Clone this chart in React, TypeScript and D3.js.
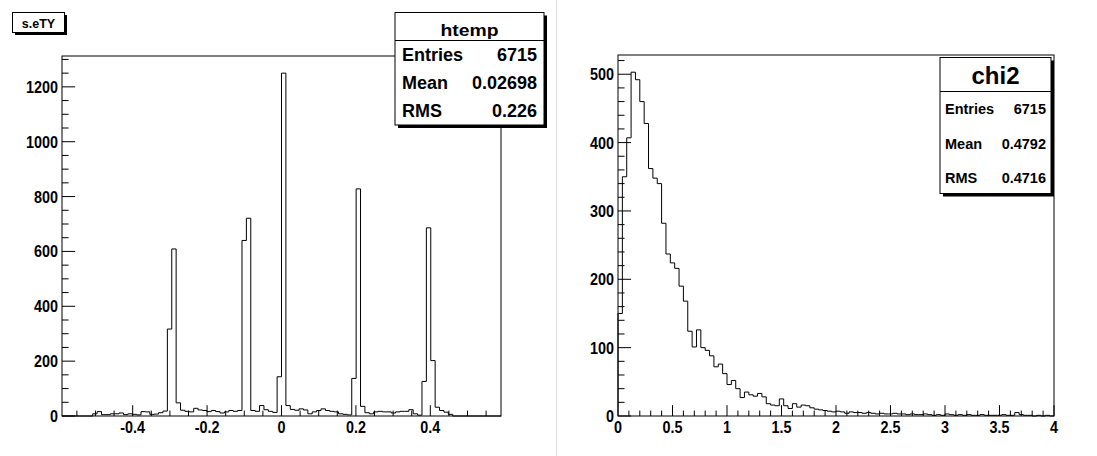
import React from 'react';
import * as d3 from 'd3';

const W = 1097;
const H = 456;

// ---- Left histogram: s.eTY (htemp), 100 bins on [-0.59, 0.59]
const leftRange: [number, number] = [-0.59, 0.59];
const leftCounts = [
  0, 0, 0, 0, 0, 0, 0, 8, 16, 5,
  5, 8, 8, 11, 5, 8, 6, 4, 16, 15,
  6, 7, 12, 18, 317, 609, 48, 21, 17, 15,
  28, 22, 20, 16, 20, 16, 11, 15, 20, 17,
  20, 640, 721, 20, 17, 38, 23, 17, 13, 143,
  1250, 38, 24, 21, 26, 22, 8, 15, 20, 26,
  20, 17, 15, 8, 6, 4, 137, 828, 35, 12,
  8, 15, 17, 15, 15, 11, 15, 17, 17, 23,
  8, 3, 126, 686, 202, 32, 20, 14, 6, 0,
  0, 0, 0, 0, 0, 0, 0, 0, 0, 0,
];
const leftXTicks = [-0.4, -0.2, 0, 0.2, 0.4];
const leftXTickLabels = ['-0.4', '-0.2', '0', '0.2', '0.4'];
const leftYTicks = [0, 200, 400, 600, 800, 1000, 1200];
const leftYTickLabels = ['0', '200', '400', '600', '800', '1000', '1200'];
const leftTitle = 's.eTY';
const leftStatTitle = 'htemp';
const leftStatLabels = ['Entries', 'Mean', 'RMS'];
const leftStatValues = ['6715', '0.02698', '0.226'];

// ---- Right histogram: chi2, 100 bins on [0, 4]
const rightRange: [number, number] = [0, 4];
const rightCounts = [
  150, 350, 407, 503, 492, 460, 428, 362, 348, 340,
  282, 237, 224, 216, 190, 168, 124, 101, 126, 100,
  96, 88, 72, 76, 62, 46, 52, 40, 27, 35,
  31, 29, 33, 28, 18, 16, 15, 25, 15, 11,
  18, 13, 16, 15, 12, 10, 9, 8, 7, 6,
  7, 6, 4, 6, 5, 5, 4, 5, 4, 3,
  4, 3, 3, 4, 3, 3, 2, 3, 2, 2,
  3, 2, 1, 2, 1, 3, 2, 1, 2, 1,
  2, 1, 1, 2, 1, 1, 1, 1, 2, 1,
  1, 5, 2, 1, 1, 0, 1, 0, 1, 0,
];
const rightXTicks = [0, 0.5, 1, 1.5, 2, 2.5, 3, 3.5, 4];
const rightXTickLabels = ['0', '0.5', '1', '1.5', '2', '2.5', '3', '3.5', '4'];
const rightYTicks = [0, 100, 200, 300, 400, 500];
const rightYTickLabels = ['0', '100', '200', '300', '400', '500'];
const rightStatTitle = 'chi2';
const rightStatLabels = ['Entries', 'Mean', 'RMS'];
const rightStatValues = ['6715', '0.4792', '0.4716'];

const AXIS_FONT = '"Liberation Sans", Arial, sans-serif';
const BOX_FONT = '"Liberation Sans", Arial, sans-serif';
const AXIS_SQUEEZE = 0.87;

type Frame = { x0: number; x1: number; y0: number; y1: number };

function Hist(props: {
  frame: Frame;
  range: [number, number];
  counts: number[];
  xTicks: number[];
  xTickLabels: string[];
  xMinorStep: number;
  yTicks: number[];
  yTickLabels: string[];
  yMinorStep: number;
}) {
  const { frame, range, counts, xTicks, xTickLabels, xMinorStep, yTicks, yTickLabels, yMinorStep } = props;
  const n = counts.length;
  const ymax = 1.05 * (d3.max(counts) as number);
  const x = d3.scaleLinear().domain(range).range([frame.x0, frame.x1]);
  const y = d3.scaleLinear().domain([0, ymax]).range([frame.y1, frame.y0]);
  const bw = (range[1] - range[0]) / n;
  const pts: [number, number][] = [[range[0], 0]];
  counts.forEach((c, i) => pts.push([range[0] + i * bw, c]));
  pts.push([range[1], 0]);
  const line = d3
    .line<[number, number]>()
    .x((d) => x(d[0]))
    .y((d) => y(d[1]))
    .curve(d3.curveStepAfter);

  const xMinor: number[] = [];
  const startX = Math.ceil((range[0] + 1e-9) / xMinorStep) * xMinorStep;
  for (let v = startX; v <= range[1] + 1e-9; v += xMinorStep) xMinor.push(+v.toFixed(6));
  const yMinor: number[] = [];
  for (let v = 0; v <= ymax + 1e-9; v += yMinorStep) yMinor.push(v);

  const Hh = frame.y1 - frame.y0;
  const Wd = frame.x1 - frame.x0;
  const xMaj = 0.03 * Hh;
  const yMaj = 0.03 * Wd;

  return (
    <g>
      <rect x={frame.x0} y={frame.y0} width={Wd} height={Hh} fill="none" stroke="#000" strokeWidth={1} />
      <path d={line(pts) || ''} fill="none" stroke="#000" strokeWidth={1} />
      {xMinor.map((v, i) => {
        const isMaj = xTicks.some((t) => Math.abs(t - v) < 1e-6);
        return (
          <line key={'xm' + i} x1={x(v)} x2={x(v)} y1={frame.y1} y2={frame.y1 - (isMaj ? xMaj : xMaj / 2)} stroke="#000" strokeWidth={1} />
        );
      })}
      {yMinor.map((v, i) => {
        const isMaj = yTicks.some((t) => Math.abs(t - v) < 1e-6);
        return (
          <line key={'ym' + i} x1={frame.x0} x2={frame.x0 + (isMaj ? yMaj : yMaj / 2)} y1={y(v)} y2={y(v)} stroke="#000" strokeWidth={1} />
        );
      })}
      {xTicks.map((t, i) => (
        <g key={'xl' + i} transform={`translate(${x(t)},${frame.y1 + 17}) scale(${AXIS_SQUEEZE},1)`}>
          <text x={0} y={0} textAnchor="middle" fontFamily={AXIS_FONT} fontWeight="bold" fontSize={16.5}>
            {xTickLabels[i]}
          </text>
        </g>
      ))}
      {yTicks.map((t, i) => (
        <g key={'yl' + i} transform={`translate(${frame.x0 - 4},${y(t) + 6}) scale(${AXIS_SQUEEZE},1)`}>
          <text x={0} y={0} textAnchor="end" fontFamily={AXIS_FONT} fontWeight="bold" fontSize={16.5}>
            {yTickLabels[i]}
          </text>
        </g>
      ))}
    </g>
  );
}

function StatBox(props: {
  x: number; y: number; w: number; h: number; sepY: number;
  title: string; titleSize: number; titleBase: number; titleLen?: number;
  labels: string[]; values: string[]; rowBases: number[]; rowSize: number; pad: number;
}) {
  const p = props;
  return (
    <g fontFamily={BOX_FONT} fontWeight="bold">
      <rect x={p.x + 3} y={p.y + 3} width={p.w} height={p.h} fill="#000" />
      <rect x={p.x} y={p.y} width={p.w} height={p.h} fill="#fff" stroke="#000" strokeWidth={1} />
      <line x1={p.x} x2={p.x + p.w} y1={p.sepY} y2={p.sepY} stroke="#000" strokeWidth={1} />
      <text x={p.x + p.w / 2} y={p.titleBase} textAnchor="middle" fontSize={p.titleSize}
        {...(p.titleLen ? { textLength: p.titleLen, lengthAdjust: 'spacingAndGlyphs' } : {})}>
        {p.title}
      </text>
      {p.labels.map((l, i) => (
        <g key={i}>
          <text x={p.x + p.pad} y={p.rowBases[i]} fontSize={p.rowSize}>{l}</text>
          <text x={p.x + p.w - p.pad} y={p.rowBases[i]} fontSize={p.rowSize} textAnchor="end">{p.values[i]}</text>
        </g>
      ))}
    </g>
  );
}

export default function App() {
  const leftFrame: Frame = { x0: 62, x1: 501, y0: 56, y1: 416 };
  const rightFrame: Frame = { x0: 618, x1: 1054, y0: 55, y1: 416 };
  return (
    <svg width={W} height={H} style={{ position: 'absolute', left: 0, top: 0, background: '#fff' }}>
      <rect x={0} y={0} width={W} height={H} fill="#fff" />
      <line x1={556.5} x2={556.5} y1={0} y2={H} stroke="#dcdcdc" strokeWidth={1} />
      <Hist frame={leftFrame} range={leftRange} counts={leftCounts}
        xTicks={leftXTicks} xTickLabels={leftXTickLabels} xMinorStep={0.05}
        yTicks={leftYTicks} yTickLabels={leftYTickLabels} yMinorStep={50} />
      <Hist frame={rightFrame} range={rightRange} counts={rightCounts}
        xTicks={rightXTicks} xTickLabels={rightXTickLabels} xMinorStep={0.1}
        yTicks={rightYTicks} yTickLabels={rightYTickLabels} yMinorStep={20} />
      <g fontFamily={BOX_FONT} fontWeight="bold">
        <rect x={15} y={15} width={52} height={20} fill="#000" />
        <rect x={12.5} y={12.5} width={52} height={20} fill="#fff" stroke="#000" strokeWidth={1} />
        <text x={38.5} y={27.5} textAnchor="middle" fontSize={12.5}>{leftTitle}</text>
      </g>
      <StatBox x={395} y={12.5} w={149} h={112.5} sepY={40.5}
        title={leftStatTitle} titleSize={17} titleBase={36} titleLen={58}
        labels={leftStatLabels} values={leftStatValues} rowBases={[61, 89, 116.5]} rowSize={18} pad={7} />
      <StatBox x={940} y={57.5} w={111} h={136} sepY={91.5}
        title={rightStatTitle} titleSize={24} titleBase={84}
        labels={rightStatLabels} values={rightStatValues} rowBases={[114, 149, 183]} rowSize={14.5} pad={5} />
    </svg>
  );
}
